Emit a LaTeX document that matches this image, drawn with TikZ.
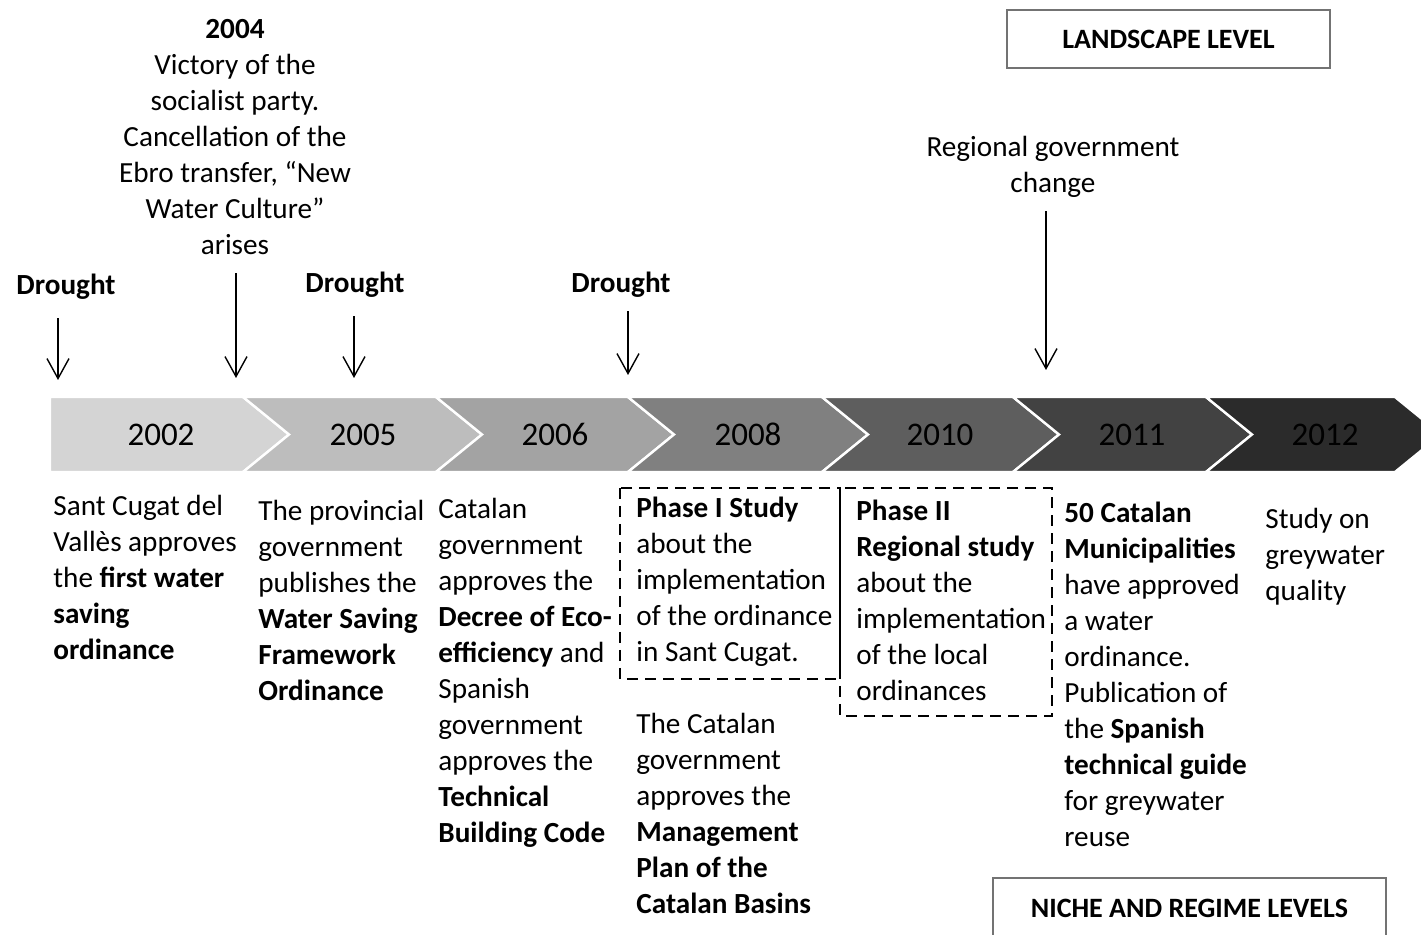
\documentclass[tikz,border=0pt]{standalone}
\usepackage{fontspec}
\setmainfont{Carlito}
\usetikzlibrary{arrows.meta,positioning}
\definecolor{chA}{gray}{0.83}
\definecolor{chB}{gray}{0.74}
\definecolor{chC}{gray}{0.64}
\definecolor{chD}{gray}{0.50}
\definecolor{chE}{gray}{0.37}
\definecolor{chF}{gray}{0.26}
\definecolor{chG}{gray}{0.17}
\definecolor{framegray}{gray}{0.45}

\begin{document}
\begin{tikzpicture}[x=0.5pt,y=-0.5pt,
  txt/.style={inner sep=0,align=left,anchor=north west,font=\fontsize{14.6}{18}\selectfont},
  hd/.style={inner sep=0,font=\fontsize{14.6}{18}\selectfont\bfseries},
  yr/.style={inner sep=0,font=\fontsize{16.5}{18}\selectfont,text=black},
  arr/.style={-{Straight Barb[length=10pt,width=11pt]},line width=0.7pt},
  lvl/.style={draw=framegray,line width=0.9pt,inner sep=0,font=\fontsize{14}{18}\selectfont\bfseries},
  dbox/.style={dash pattern=on 5.5pt off 3.5pt,line width=1.2pt}]
  \clip (0,0) rectangle (1421,935);
  % timeline chevrons
  \foreach \xa/\dl/\xb/\col/\yr/\xt in {50/0/243/chA/2002/161, 243/46/436/chB/2005/363,
      436/46/628/chC/2006/555, 628/46/822/chD/2008/748, 822/46/1013/chE/2010/940,
      1013/46/1206/chF/2011/1132, 1206/46/1395/chG/2012/1325}
  {
    \fill[\col,draw=white,line width=1.2pt] (\xa,397) -- (\xb,397) -- (\xb+46,434.5)
      -- (\xb,472) -- (\xa,472) -- (\xa+\dl,434.5) -- cycle;
    \node[yr] (y\yr) at (\xt,434.5) {\yr};
  }
  % landscape events
  \node[hd] (drA) at (66,287) {Drought};
  \node[hd] (drB) at (355,285) {Drought};
  \node[hd] (drC) at (621,285) {Drought};
  \node[txt,align=center,anchor=north] (ev2004) at (235,19) {\textbf{2004}\\Victory of the\\socialist party.\\Cancellation of the\\Ebro transfer, “New\\Water Culture”\\arises};
  \node[txt,align=center,anchor=north] (govchg) at (1053,136) {Regional government\\change};
  \coordinate (tA) at (58,380);
  \coordinate (t2004) at (236,378);
  \coordinate (tB) at (354,378);
  \coordinate (tC) at (628,375);
  \coordinate (tGov) at (1046,370);
  \draw[arr,shorten <=9pt] (drA.south -| tA) -- (tA);
  \draw[arr,shorten <=9pt] (ev2004.south -| t2004) -- (t2004);
  \draw[arr,shorten <=9pt] (drB.south -| tB) -- (tB);
  \draw[arr,shorten <=6.5pt] (drC.south -| tC) -- (tC);
  \draw[arr,shorten <=6.5pt] (govchg.south -| tGov) -- (tGov);
  % level labels
  \node[lvl,minimum width=161.5pt,minimum height=29pt] (landscape) at (1168.5,39) {LANDSCAPE LEVEL};
  \node[lvl,minimum width=196.5pt,minimum height=30pt] (niche) at (1189.5,908) {NICHE AND REGIME LEVELS};
  % niche and regime events
  \node[txt] (ev2002) at (53,495) {Sant Cugat del\\Vallès approves\\the \textbf{first water}\\\textbf{saving}\\\textbf{ordinance}};
  \node[txt] (ev2005) at (258,500) {The provincial\\government\\publishes the\\\textbf{Water Saving}\\\textbf{Framework}\\\textbf{Ordinance}};
  \node[txt] (ev2006) at (438,498) {Catalan\\government\\approves the\\\textbf{Decree of Eco-}\\\textbf{efficiency} and\\Spanish\\government\\approves the\\\textbf{Technical}\\\textbf{Building Code}};
  \node[txt] (ev2008a) at (636,497) {\textbf{Phase I Study}\\about the\\implementation\\of the ordinance\\in Sant Cugat.};
  \node[txt] (ev2008b) at (636,713) {The Catalan\\government\\approves the\\\textbf{Management}\\\textbf{Plan of the}\\\textbf{Catalan Basins}};
  \node[txt] (ev2010) at (856,500) {\textbf{Phase II}\\\textbf{Regional study}\\about the\\implementation\\of the local\\ordinances};
  \node[txt] (ev2011) at (1064,502) {\textbf{50 Catalan}\\\textbf{Municipalities}\\have approved\\a water\\ordinance.\\Publication of\\the \textbf{Spanish}\\\textbf{technical guide}\\for greywater\\reuse};
  \node[txt] (ev2012) at (1265,508) {Study on\\greywater\\quality};
  % study boxes
  \draw[dbox] (620,488) rectangle (840,679);
  \draw[dbox] (840,488) rectangle (1052,716);
  \draw[line width=1.2pt] (840,488) -- (840,679);
\end{tikzpicture}
\end{document}
